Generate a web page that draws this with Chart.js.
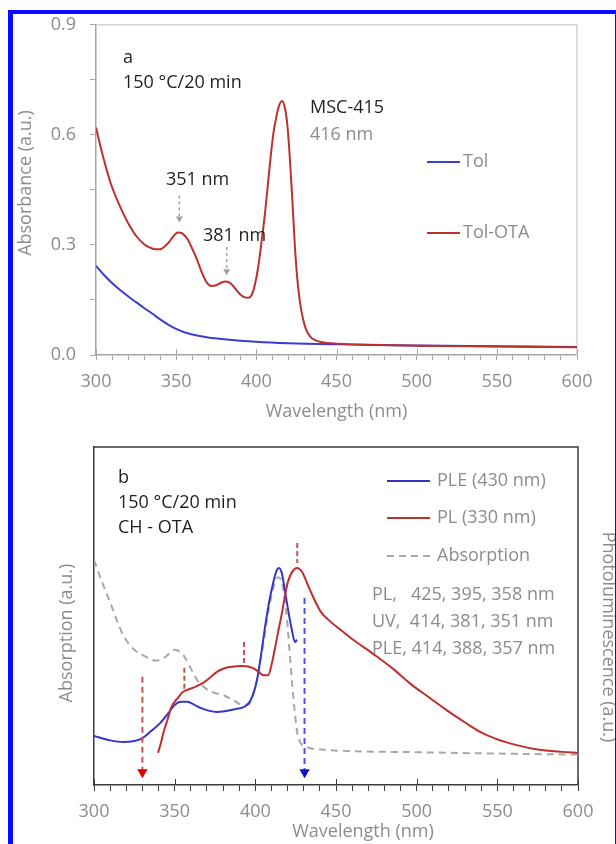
<!DOCTYPE html>
<html lang="en">
<head>
<meta charset="UTF-8">
<title>MSC-415 absorption / PL spectra</title>
<script src="https://cdn.jsdelivr.net/npm/chart.js@4.4.1/dist/chart.umd.min.js"></script>
<style>
  html, body { margin: 0; padding: 0; background: #fff; }
  #page { position: relative; width: 616px; height: 844px; overflow: hidden; background: #fff; }
  canvas { position: absolute; left: 0; }
  #topChart { top: 0; }
  #bottomChart { top: 420px; }
  #frame {
    position: absolute; left: 8px; top: 10px; width: 602px; height: 834px;
    border-left: 5px solid #0a0aff; border-top: 4px solid #0a0aff; border-right: 1px solid #0a0aff;
    pointer-events: none;
  }
</style>
</head>
<body>
<div id="page">
  <canvas id="topChart" width="616" height="430"></canvas>
  <canvas id="bottomChart" width="616" height="424"></canvas>
  <div id="frame"></div>
</div>
<script>
// ---- panel a: absorbance (a.u.) vs wavelength (nm)
const tolWl  = [300, 305, 310, 315, 320, 325, 330, 335, 340, 345, 350, 355, 360, 370, 380, 400, 420, 450, 500, 550, 600];
const tolAbs = [0.243, 0.218, 0.196, 0.177, 0.16, 0.144, 0.128, 0.113, 0.097, 0.083, 0.071, 0.062, 0.056, 0.048, 0.043, 0.036, 0.032, 0.029, 0.026, 0.024, 0.022];

const tolOtaWl  = [300, 303, 306, 309, 312, 316, 320, 325, 330, 334, 337, 340, 342, 345, 348, 351, 354, 357, 360, 363, 366, 369, 372, 375, 378, 381, 384, 387, 390, 393, 395, 397, 399, 401, 403, 405.5, 408, 410.5, 412.5, 414, 416, 418, 419.5, 421, 422.5, 424, 425.5, 427, 429, 431, 434, 437, 441, 450, 475, 500, 550, 600];
const tolOtaAbs = [0.62, 0.565, 0.515, 0.47, 0.435, 0.395, 0.36, 0.325, 0.302, 0.292, 0.288, 0.288, 0.293, 0.305, 0.322, 0.334, 0.331, 0.316, 0.29, 0.26, 0.225, 0.198, 0.188, 0.19, 0.197, 0.2, 0.195, 0.18, 0.165, 0.157, 0.156, 0.163, 0.19, 0.235, 0.3, 0.39, 0.5, 0.6, 0.65, 0.677, 0.692, 0.67, 0.62, 0.53, 0.42, 0.3, 0.21, 0.15, 0.1, 0.07, 0.048, 0.04, 0.035, 0.031, 0.027, 0.025, 0.023, 0.021];

// peak pointers (wavelength, start, tip)
const pointerWl    = [352, 381.5];
const pointerStart = [0.435, 0.294];
const pointerTip   = [0.372, 0.228];

// ---- panel b: normalised intensities
const pleWl  = [300, 310, 318, 325, 330, 335, 341, 346, 350, 354, 358, 362, 366, 371, 376, 382, 388, 393, 397, 401, 404, 406, 408.5, 411, 413, 414.7, 416.5, 418, 420, 422.6, 424.6, 425.8];
const pleInt = [0.145, 0.132, 0.127, 0.13, 0.139, 0.158, 0.183, 0.212, 0.237, 0.246, 0.246, 0.238, 0.228, 0.22, 0.216, 0.219, 0.225, 0.231, 0.25, 0.31, 0.40, 0.467, 0.54, 0.597, 0.632, 0.642, 0.625, 0.585, 0.527, 0.46, 0.423, 0.43];

const plWl  = [339.7, 341.5, 343, 346, 348, 352, 355, 361, 367.6, 372, 376, 380, 384, 388, 392, 398.6, 402, 404.8, 408, 410, 412, 414, 416.5, 418, 420, 423, 425.8, 429, 432, 435, 438, 441, 445, 452, 460, 473, 485, 496, 508, 519, 530, 539, 550, 562, 575, 590, 600];
const plInt = [0.095, 0.125, 0.154, 0.2, 0.231, 0.258, 0.275, 0.287, 0.302, 0.318, 0.334, 0.344, 0.349, 0.351, 0.352, 0.346, 0.335, 0.325, 0.325, 0.355, 0.40, 0.45, 0.509, 0.55, 0.598, 0.632, 0.642, 0.63, 0.598, 0.565, 0.535, 0.51, 0.49, 0.462, 0.432, 0.388, 0.345, 0.30, 0.258, 0.22, 0.185, 0.158, 0.135, 0.118, 0.105, 0.098, 0.095];

const absWl  = [300, 305, 310, 318, 325, 332, 338, 343, 347, 350, 353, 356, 360, 364, 370, 375, 380, 386, 392, 396, 400, 404, 408, 411, 414, 416.5, 419.6, 423, 426, 428, 432, 444, 460, 500, 550, 600];
const absInt = [0.666, 0.6, 0.54, 0.444, 0.4, 0.38, 0.368, 0.375, 0.39, 0.40, 0.395, 0.38, 0.345, 0.31, 0.283, 0.272, 0.266, 0.252, 0.237, 0.24, 0.29, 0.39, 0.51, 0.58, 0.615, 0.6, 0.49, 0.29, 0.154, 0.125, 0.112, 0.104, 0.1, 0.097, 0.093, 0.09];

// PL peak marks (short dashed ticks)
const markWl     = [356, 393, 426];
const markTop    = [0.347, 0.423, 0.716];
const markBottom = [0.275, 0.361, 0.657];

// excitation / emission arrows
const exWl = 330, exFrom = 0.32, exTo = 0.038;
const emWl = 430.5, emFrom = 0.553, emTo = 0.038;

const FONT = "'Open Sans', sans-serif";
const GRAY = '#8c8c8c';
const INK = '#1f1f1f';
Chart.defaults.font.family = FONT;
Chart.defaults.font.size = 18;
Chart.defaults.color = GRAY;

const pts = (xs, ys) => xs.map((x, i) => ({x: x, y: ys[i]}));

// extra drawing: frame sides, crossing major ticks, legend, free text
const decor = {
    id: 'decor',
    beforeDatasetsDraw(chart, args, opts) {
        const {ctx, chartArea: a} = chart;
        ctx.save();
        ctx.strokeStyle = opts.frameColor;
        ctx.lineWidth = opts.frameWidth;
        ctx.beginPath();
        ctx.moveTo(a.left, a.top);
        ctx.lineTo(a.right, a.top);
        ctx.lineTo(a.right, a.bottom);
        ctx.stroke();
        ctx.restore();
    },
    afterDraw(chart, args, opts) {
        const {ctx} = chart;
        const xs = chart.scales.x;
        ctx.save();
        ctx.strokeStyle = opts.tickColor;
        ctx.lineWidth = 1;
        xs.ticks.forEach(t => {
            if (Math.round(t.value) % 50 !== 0) return;
            const px = Math.round(xs.getPixelForValue(t.value)) + 0.5;
            ctx.beginPath();
            ctx.moveTo(px, xs.top - 6);
            ctx.lineTo(px, xs.top);
            ctx.stroke();
        });
        ctx.font = '18px ' + FONT;
        ctx.textBaseline = 'middle';
        (opts.legend || []).forEach(it => {
            const ds = chart.data.datasets[it.dataset];
            ctx.strokeStyle = ds.borderColor;
            ctx.lineWidth = 2;
            ctx.setLineDash(ds.borderDash || []);
            ctx.beginPath();
            ctx.moveTo(it.x1, it.y);
            ctx.lineTo(it.x2, it.y);
            ctx.stroke();
            ctx.setLineDash([]);
            ctx.fillStyle = GRAY;
            ctx.textAlign = 'left';
            ctx.fillText(ds.label, it.tx, it.y);
        });
        (opts.texts || []).forEach(t => {
            ctx.save();
            ctx.translate(t.x, t.y);
            if (t.rotate) ctx.rotate(t.rotate);
            ctx.fillStyle = t.color || INK;
            ctx.textAlign = t.align || 'left';
            ctx.fillText(t.text, 0, 0);
            ctx.restore();
        });
        ctx.restore();
    }
};

function xAxis(color, tickLen, pad, title) {
    return {
        type: 'linear', min: 300, max: 600,
        grid: {drawOnChartArea: false, drawTicks: true, tickLength: tickLen, color: color, lineWidth: 1},
        border: {color: color, width: 1.5},
        ticks: {
            stepSize: 10, autoSkip: false, maxRotation: 0, padding: pad, color: GRAY,
            callback: v => Math.round(v) % 50 === 0 ? String(Math.round(v)) : ''
        },
        title: title
    };
}

// ---------- panel a
const pointerSets = pointerWl.map((wl, i) => ({
    label: 'pointer' + i,
    data: pts([wl, wl], [pointerStart[i], pointerTip[i]]),
    borderColor: '#a0a0a0', borderWidth: 1.5, borderDash: [3, 3],
    pointRadius: [0, 4], pointStyle: 'triangle', rotation: 180,
    pointBackgroundColor: '#a0a0a0', pointBorderColor: '#a0a0a0', pointBorderWidth: 0
}));

new Chart(document.getElementById('topChart'), {
    type: 'line',
    data: {
        datasets: [
            {label: 'Tol-OTA', data: pts(tolOtaWl, tolOtaAbs), borderColor: '#be2f2d', borderWidth: 2,
             pointRadius: 0, cubicInterpolationMode: 'monotone'},
            {label: 'Tol', data: pts(tolWl, tolAbs), borderColor: '#3d3dd0', borderWidth: 2,
             pointRadius: 0, cubicInterpolationMode: 'monotone'},
            ...pointerSets
        ]
    },
    options: {
        responsive: false, animation: false,
        layout: {padding: {left: 0, top: 24, right: 39, bottom: 0}},
        scales: {
            x: Object.assign(xAxis('#a6a6a6', 5, 11, {display: true, text: 'Wavelength (nm)', color: GRAY, padding: {top: 0, bottom: 7}}),
                {afterFit: s => { s.height = 75; }}),
            y: {
                min: 0, max: 0.9,
                grid: {drawOnChartArea: false, drawTicks: true, tickLength: 6, color: '#a6a6a6'},
                border: {color: '#a6a6a6', width: 1.5},
                ticks: {
                    stepSize: 0.15, autoSkip: false, padding: 14, color: GRAY,
                    callback: v => Math.abs(v / 0.3 - Math.round(v / 0.3)) < 1e-6 ? v.toFixed(1) : ''
                },
                afterFit: s => { s.width = 96; }
            }
        },
        plugins: {
            legend: {display: false},
            tooltip: {enabled: false},
            decor: {
                frameColor: '#d4d4d4', frameWidth: 1.5, tickColor: '#a6a6a6',
                legend: [
                    {dataset: 1, x1: 427, x2: 460, y: 162, tx: 463},
                    {dataset: 0, x1: 427, x2: 460, y: 233, tx: 463}
                ],
                texts: [
                    {text: 'Absorbance (a.u.)', x: 26, y: 183, rotate: -Math.PI / 2, align: 'center', color: GRAY},
                    {text: 'a', x: 123, y: 58},
                    {text: '150 °C/20 min', x: 123, y: 83},
                    {text: 'MSC-415', x: 310, y: 108},
                    {text: '416 nm', x: 310, y: 135, color: GRAY},
                    {text: '351 nm', x: 166, y: 180},
                    {text: '381 nm', x: 203, y: 236}
                ]
            }
        }
    },
    plugins: [decor]
});

// ---------- panel b
const markSets = markWl.map((wl, i) => ({
    label: 'mark' + i,
    data: pts([wl, wl], [markTop[i], markBottom[i]]),
    borderColor: '#c8504e', borderWidth: 2, borderDash: [5, 3], pointRadius: 0
}));

new Chart(document.getElementById('bottomChart'), {
    type: 'line',
    data: {
        datasets: [
            {label: 'ex', data: pts([exWl, exWl], [exFrom, exTo]), borderColor: '#d0504e', borderWidth: 2,
             borderDash: [6, 4], pointRadius: [0, 6], pointStyle: 'triangle', rotation: 180,
             pointBackgroundColor: '#e00000', pointBorderColor: '#e00000', pointBorderWidth: 0},
            {label: 'em', data: pts([emWl, emWl], [emFrom, emTo]), borderColor: '#4f4fe6', borderWidth: 2,
             borderDash: [6, 4], pointRadius: [0, 6], pointStyle: 'triangle', rotation: 180,
             pointBackgroundColor: '#1414c8', pointBorderColor: '#1414c8', pointBorderWidth: 0},
            ...markSets,
            {label: 'PL (330 nm)', data: pts(plWl, plInt), borderColor: '#be2f2d', borderWidth: 2,
             pointRadius: 0, cubicInterpolationMode: 'monotone'},
            {label: 'PLE (430 nm)', data: pts(pleWl, pleInt), borderColor: '#3535c8', borderWidth: 2,
             pointRadius: 0, cubicInterpolationMode: 'monotone'},
            {label: 'Absorption', data: pts(absWl, absInt), borderColor: '#a8a8a8', borderWidth: 2,
             borderDash: [7, 5], pointRadius: 0, cubicInterpolationMode: 'monotone'}
        ]
    },
    options: {
        responsive: false, animation: false,
        layout: {padding: {left: 0, top: 27, right: 38, bottom: 0}},
        scales: {
            x: Object.assign(xAxis('#3c3c3c', 6, 10, {display: false}), {afterFit: s => { s.height = 59; }}),
            y: {
                min: 0, max: 1,
                grid: {display: false},
                border: {color: '#3c3c3c', width: 1.5},
                ticks: {display: false},
                afterFit: s => { s.width = 94; }
            }
        },
        plugins: {
            legend: {display: false},
            tooltip: {enabled: false},
            decor: {
                frameColor: '#3c3c3c', frameWidth: 1.5, tickColor: '#3c3c3c',
                legend: [
                    {dataset: 6, x1: 387, x2: 430, y: 61, tx: 437},
                    {dataset: 5, x1: 387, x2: 430, y: 98, tx: 437},
                    {dataset: 7, x1: 387, x2: 430, y: 136, tx: 437}
                ],
                texts: [
                    {text: 'b', x: 118, y: 58},
                    {text: '150 °C/20 min', x: 118, y: 83},
                    {text: 'CH - OTA', x: 118, y: 108},
                    {text: 'PL,   425, 395, 358 nm', x: 372, y: 175, color: GRAY},
                    {text: 'UV,  414, 381, 351 nm', x: 372, y: 202, color: GRAY},
                    {text: 'PLE, 414, 388, 357 nm', x: 372, y: 229, color: GRAY},
                    {text: 'Absorption (a.u.)', x: 67, y: 213, rotate: -Math.PI / 2, align: 'center', color: GRAY},
                    {text: 'Photoluminescence (a.u.)', x: 608, y: 217, rotate: Math.PI / 2, align: 'center', color: GRAY},
                    {text: 'Wavelength (nm)', x: 363, y: 412, align: 'center', color: GRAY}
                ]
            }
        }
    },
    plugins: [decor]
});
</script>
</body>
</html>
